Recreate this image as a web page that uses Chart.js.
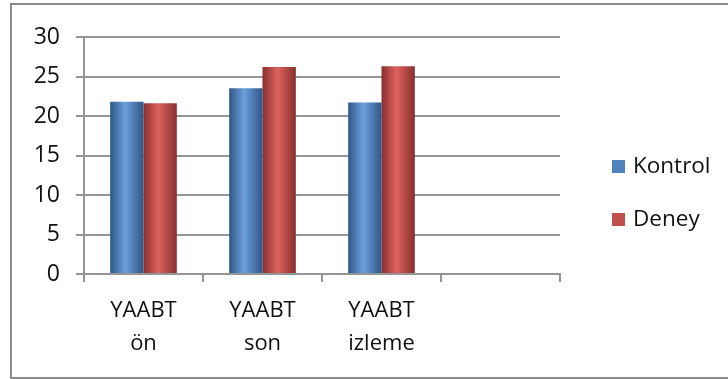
<!DOCTYPE html>
<html lang="tr">
<head>
<meta charset="UTF-8">
<title>YAABT</title>
<script src="https://cdn.jsdelivr.net/npm/chart.js"></script>
<style>
    body { margin: 0; background: #fff; }
    #wrap { position: relative; width: 728px; height: 379px; }
    #frame { position: absolute; left: 10px; top: 3px; width: 740px; height: 372px; border: 2px solid #8c8c8c; }
    canvas { position: absolute; left: 0; top: 0; }
</style>
</head>
<body>
<div id="wrap">
    <div id="frame"></div>
    <canvas id="chart" width="728" height="379"></canvas>
</div>

<script>
const categories = [['YAABT', 'ön'], ['YAABT', 'son'], ['YAABT', 'izleme'], ''];
const kontrol = [21.8, 23.5, 21.7, null];
const deney = [21.6, 26.2, 26.3, null];
const yTicks = [0, 5, 10, 15, 20, 25, 30];

const CAT_PCT = 0.56;
const FONT = '"Open Sans", sans-serif';

// dark edges, light band left of centre, like the excel cylinder look
function barFill(dark, light, mid) {
    return (c) => {
        const x = c.chart.scales.x;
        if (!x || c.dataIndex === undefined) return mid;
        const barW = x.width / categories.length * CAT_PCT / 2;
        const left = x.getPixelForValue(c.dataIndex) - barW + c.datasetIndex * barW;
        if (!Number.isFinite(left) || !Number.isFinite(barW) || barW <= 0) return mid;
        const g = c.chart.ctx.createLinearGradient(left, 0, left + barW, 0);
        g.addColorStop(0, dark);
        g.addColorStop(0.45, light);
        g.addColorStop(1, dark);
        return g;
    };
}

// legend drawn by hand so it sits where excel put it
const sideLegend = {
    id: 'sideLegend',
    afterDraw(chart) {
        const ctx = chart.ctx;
        const rows = [167, 220];
        ctx.save();
        ctx.font = '22.5px ' + FONT;
        ctx.textBaseline = 'middle';
        chart.data.datasets.forEach((ds, i) => {
            ctx.fillStyle = ds.legendColor;
            ctx.fillRect(612, rows[i] - 7, 13, 13);
            ctx.fillStyle = '#111';
            ctx.fillText(ds.label, 633, rows[i]);
        });
        ctx.restore();
    }
};

new Chart(document.getElementById('chart'), {
    type: 'bar',
    data: {
        labels: categories,
        datasets: [
            {
                label: 'Kontrol',
                data: kontrol,
                legendColor: '#4f81bd',
                backgroundColor: barFill('#2f5687', '#6c9fdc', '#4f81bd')
            },
            {
                label: 'Deney',
                data: deney,
                legendColor: '#c0504d',
                backgroundColor: barFill('#86302e', '#de625f', '#c0504d')
            }
        ]
    },
    options: {
        responsive: false,
        animation: false,
        categoryPercentage: CAT_PCT,
        barPercentage: 1,
        layout: { padding: { top: 37, right: 168, bottom: 0, left: 0 } },
        plugins: {
            legend: { display: false },
            tooltip: { enabled: false }
        },
        scales: {
            x: {
                afterFit: s => { s.height = 379 - 274; },
                grid: {
                    offset: true,
                    drawOnChartArea: false,
                    drawTicks: true,
                    tickLength: 8,
                    color: '#959595',
                    lineWidth: 2
                },
                border: { color: '#959595', width: 2 },
                ticks: {
                    color: '#111',
                    padding: 12,
                    maxRotation: 0,
                    autoSkip: false,
                    font: { family: FONT, size: 22, lineHeight: 1.5 }
                }
            },
            y: {
                min: 0,
                max: 30,
                afterFit: s => { s.width = 84; },
                afterBuildTicks: s => { s.ticks = yTicks.map(v => ({ value: v })); },
                grid: {
                    color: '#959595',
                    lineWidth: 2,
                    tickLength: 8
                },
                border: { color: '#959595', width: 2 },
                ticks: {
                    color: '#111',
                    padding: 16,
                    font: { family: FONT, size: 23 }
                }
            }
        }
    },
    plugins: [sideLegend]
});
</script>
</body>
</html>
